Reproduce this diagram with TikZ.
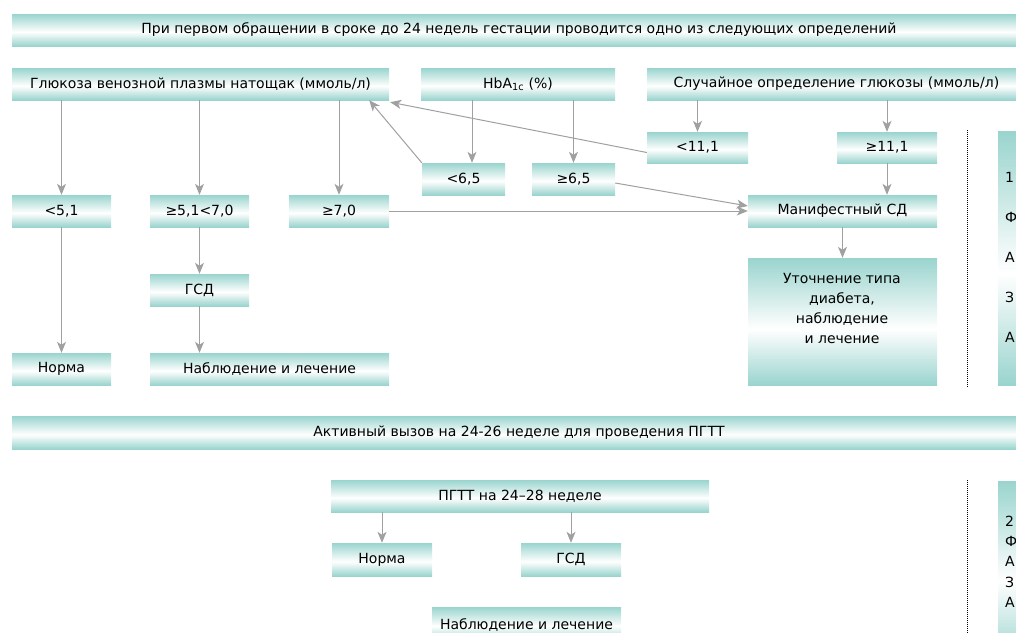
\documentclass[tikz,border=0pt]{standalone}
\usepackage{fontspec}
\setmainfont{DejaVu Sans}
\usetikzlibrary{arrows.meta,calc}
\definecolor{tealc}{HTML}{9AD4CE}
\definecolor{arrc}{HTML}{A0A0A0}
\pgfdeclareverticalshading{tealsh}{100bp}{color(0bp)=(tealc); color(25bp)=(tealc); color(47bp)=(white); color(75bp)=(tealc); color(100bp)=(tealc)}
\newcommand\bx[7][]{%
  \node[box,#1,minimum width={(#5-#3)*1pt},minimum height={(#6-#4)*1pt}] (#2) at ({(#3+#5)/2},{(#4+#6)/2}) {#7};}
\begin{document}
\begin{tikzpicture}[x=1pt,y=-1pt,
  box/.style={inner sep=0pt, shading=tealsh,
    font=\fontsize{14}{16}\selectfont, align=center, text=black},
  txt/.style={inner sep=0pt, font=\fontsize{14}{20}\selectfont, align=center, text=black},
  arr/.style={draw=arrc, line width=1pt, -{Stealth[length=11pt,width=9pt,inset=3pt]}},
  dots/.style={line width=1pt, dash pattern=on 1pt off 1pt},
]
\useasboundingbox (0,0) rectangle (1016,632);
\clip (0,0) rectangle (1016,632);
% banners
\bx{top}{12}{14}{1026}{46}{При первом обращении в сроке до 24 недель гестации проводится одно из следующих определений}
\bx{mid}{12}{416}{1026}{449}{Активный вызов на 24-26 неделе для проведения ПГТТ}
% row 1
\bx{gluc}{12}{68}{389}{100}{Глюкоза венозной плазмы натощак (ммоль/л)}
\bx{hba}{421}{68}{615}{100}{HbA\textsubscript{1c} (\%)}
\bx{rand}{647}{68}{1026}{100}{Случайное определение глюкозы (ммоль/л)}
% row 2
\bx{lt111}{647}{132}{748}{163}{<11,1}
\bx{ge111}{837}{132}{937}{163}{≥11,1}
\bx{lt65}{422}{163}{505}{195}{<6,5}
\bx{ge65}{532}{163}{615}{195}{≥6,5}
% row 3
\bx{lt51}{12}{195}{111}{227}{<5,1}
\bx{ge51}{150}{195}{249}{227}{≥5,1<7,0}
\bx{ge70}{289}{195}{389}{227}{≥7,0}
\bx{manif}{748}{195}{937}{227}{Манифестный СД}
\bx{gsd1}{150}{274}{249}{306}{ГСД}
\bx{utoch}{748}{258}{937}{385}{}
\node[txt] (utochtxt) at (842,308) {Уточнение типа\\диабета,\\наблюдение\\и лечение};
\bx{norma1}{12}{353}{111}{385}{Норма}
\bx{obs1}{150}{353}{389}{385}{Наблюдение и лечение}
% right side boxes
\bx{right1}{998}{131}{1040}{385}{}
\bx{right2}{998}{481}{1040}{660}{}
\foreach \t/\yy [count=\i] in {1/177,Ф/217,А/257,З/297,А/337}
  \node[txt,anchor=west] (ra\i) at (1005,\yy) {\t};
\foreach \t/\yy [count=\i] in {2/521,Ф/541,А/561,З/582,А/602}
  \node[txt,anchor=west] (rb\i) at (1005,\yy) {\t};
% bottom section
\bx{pgtt}{331}{480}{709}{512}{ПГТТ на 24–28 неделе}
\bx{norma2}{332}{543}{432}{576}{Норма}
\bx{gsd2}{521}{543}{621}{576}{ГСД}
\node[box,minimum width=189pt,minimum height=34pt,text depth=0pt] (obs2) at (526.5,624) {Наблюдение и лечение};
% dotted lines
\coordinate (d1a) at (967,130); \coordinate (d1b) at (967,387);
\coordinate (d2a) at (967,480); \coordinate (d2b) at (967,640);
\draw[dots] (d1a) -- (d1b);
\draw[dots] (d2a) -- (d2b);
% arrows
\draw[arr] (gluc.south -| lt51.north) -- (lt51.north);
\draw[arr] (gluc.south -| ge51.north) -- (ge51.north);
\draw[arr] (gluc.south -| ge70.north) -- (ge70.north);
\draw[arr] ([xshift=8.5pt]lt65.north |- hba.south) -- ([xshift=8.5pt]lt65.north);
\draw[arr] (hba.south -| ge65.north) -- (ge65.north);
\draw[arr] (rand.south -| lt111.north) -- (lt111.north);
\draw[arr] (rand.south -| ge111.north) -- (ge111.north);
\draw[arr] (ge111.south) -- (ge111.south |- manif.north);
\draw[arr] (manif.south) -- (utoch.north);
\draw[arr] (ge51.south) -- (gsd1.north);
\draw[arr] (gsd1.south) -- (obs1.north -| gsd1.south);
\draw[arr] (lt51.south) -- (norma1.north);
\draw[arr] (ge70.east) -- (ge70.east -| manif.west);
\draw[arr] ([yshift=-4pt]ge65.east) -- ([yshift=5pt]manif.west);
\draw[arr] (lt65.north west) -- ([xshift=-20pt]gluc.south east);
\draw[arr] ([yshift=-5pt]lt111.west) -- ([xshift=1pt,yshift=-2pt]gluc.south east);
\draw[arr] (pgtt.south -| norma2.north) -- (norma2.north);
\draw[arr] (pgtt.south -| gsd2.north) -- (gsd2.north);
\end{tikzpicture}
\end{document}
